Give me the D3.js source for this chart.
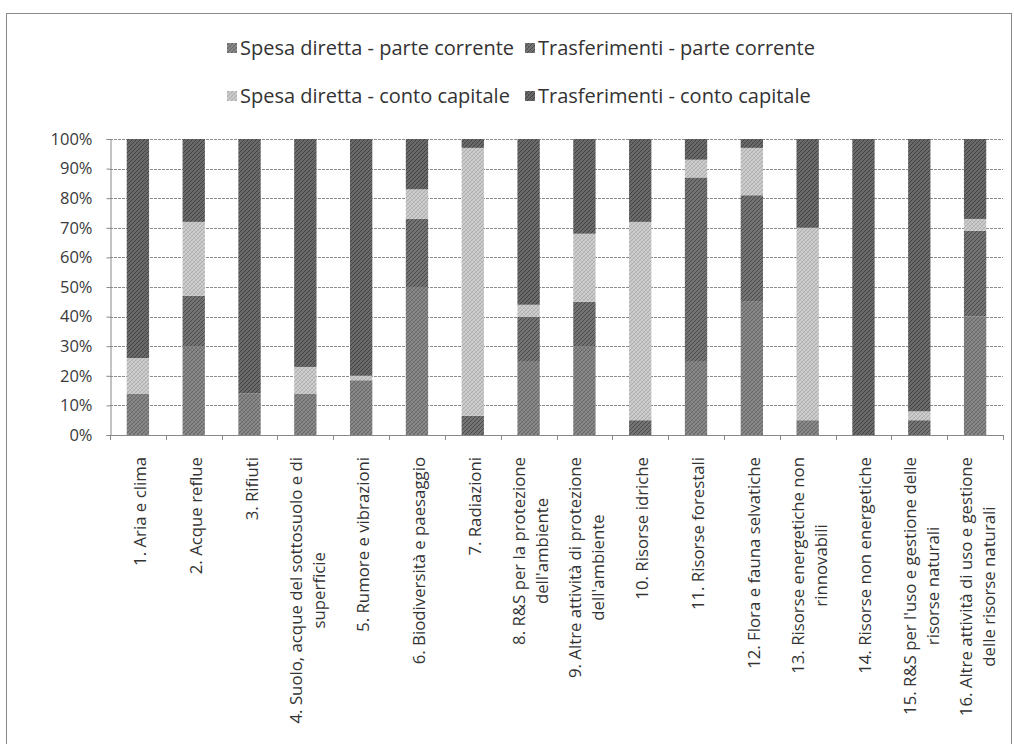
<!DOCTYPE html>
<html><head><meta charset="utf-8">
<script src="https://cdn.jsdelivr.net/npm/d3@7"></script>
<style>
html,body{margin:0;padding:0;background:#fff;}
svg{display:block;}
</style></head>
<body>
<svg id="chart" width="1014" height="744"></svg>
<script>
const categories = [
  "1. Aria e clima",
  "2. Acque reflue",
  "3. Rifiuti",
  "4. Suolo, acque del sottosuolo e di\nsuperficie",
  "5. Rumore e vibrazioni",
  "6. Biodiversità e paesaggio",
  "7. Radiazioni",
  "8. R&S per la protezione\ndell'ambiente",
  "9. Altre attività di protezione\ndell'ambiente",
  "10. Risorse idriche",
  "11. Risorse forestali",
  "12. Flora e fauna selvatiche",
  "13. Risorse energetiche non\nrinnovabili",
  "14. Risorse non energetiche",
  "15. R&S per l'uso e gestione delle\nrisorse naturali",
  "16. Altre attività di uso e gestione\ndelle risorse naturali"
];
const seriesNames = [
  "Spesa diretta - parte corrente",
  "Trasferimenti - parte corrente",
  "Spesa diretta - conto capitale",
  "Trasferimenti - conto capitale"
];
const spesaDirettaCorrente   = [14, 30, 14, 14, 18.5, 50, 0,   25, 30, 0,  25, 45, 5,  0,   0,  40];
const trasferimentiCorrente  = [0,  17, 0,  0,  0,    23, 6.5, 15, 15, 5,  62, 36, 0,  0,   5,  29];
const spesaDirettaCapitale   = [12, 25, 0,  9,  1.5,  10, 90.5, 4, 23, 67, 6,  16, 65, 0,   3,  4];
const trasferimentiCapitale  = [74, 28, 86, 77, 80,   17, 3,   56, 32, 28, 7,  3,  30, 100, 92, 27];
const yTicks = [0, 0.1, 0.2, 0.3, 0.4, 0.5, 0.6, 0.7, 0.8, 0.9, 1];

const seriesValues = [spesaDirettaCorrente, trasferimentiCorrente, spesaDirettaCapitale, trasferimentiCapitale];
const rows = categories.map((c, i) => {
  const r = {cat: c};
  seriesNames.forEach((s, k) => r[s] = seriesValues[k][i]);
  return r;
});

const svg = d3.select("#chart");
const m = {left: 110, right: 1003, top: 139, bottom: 435};

// patterns
const defs = svg.append("defs");
const pat = [
  {id: "p0", base: "#8a8a8a", line: "#666666", cross: true},
  {id: "p1", base: "#737373", line: "#4a4a4a", cross: false},
  {id: "p2", base: "#cdcdcd", line: "#adadad", cross: true},
  {id: "p3", base: "#696969", line: "#424242", cross: false}
];
pat.forEach(p => {
  const g = defs.append("pattern").attr("id", p.id).attr("patternUnits", "userSpaceOnUse")
    .attr("width", 4).attr("height", 4);
  g.append("rect").attr("width", 4).attr("height", 4).attr("fill", p.base);
  g.append("path").attr("d", "M-1,1 L1,-1 M0,4 L4,0 M3,5 L5,3").attr("stroke", p.line).attr("stroke-width", 1);
  if (p.cross) g.append("path").attr("d", "M0,0 L4,4 M-1,3 L1,5 M3,-1 L5,1").attr("stroke", p.line).attr("stroke-width", 0.6).attr("opacity", 0.7);
});

// outer border
svg.append("rect").attr("x", 6.5).attr("y", 13.5).attr("width", 1005).attr("height", 740)
  .attr("fill", "none").attr("stroke", "#8a8a8a").attr("stroke-width", 1);

const x = d3.scaleBand().domain(categories).range([m.left, m.right]).paddingInner(0.6).paddingOuter(0.3);
const y = d3.scaleLinear().domain([0, 1]).range([m.bottom, m.top]);

// gridlines
svg.append("g").selectAll("line").data(yTicks).join("line")
  .attr("x1", m.left).attr("x2", m.right)
  .attr("y1", d => Math.round(y(d)) + 0.5).attr("y2", d => Math.round(y(d)) + 0.5)
  .attr("stroke", "#8c8c8c").attr("stroke-width", 1).attr("stroke-dasharray", "3,1");

// y axis
const yAxis = d3.axisLeft(y).tickValues(yTicks).tickFormat(d3.format(".0%")).tickSize(4).tickPadding(14);
const gy = svg.append("g").attr("transform", `translate(${m.left + 0.5},0)`).call(yAxis);
gy.select(".domain").attr("stroke", "#888");
gy.selectAll(".tick line").attr("stroke", "#888");
gy.selectAll(".tick text").attr("font-family", "Open Sans, sans-serif").attr("font-size", 16.5).attr("fill", "#3a3a3a");

// stacks
const stack = d3.stack().keys(seriesNames).offset(d3.stackOffsetExpand);
const stacked = stack(rows);
svg.append("g").selectAll("g").data(stacked).join("g")
  .attr("fill", (d, i) => `url(#p${i})`)
  .selectAll("rect").data(d => d).join("rect")
  .attr("x", d => x(d.data.cat))
  .attr("width", x.bandwidth())
  .attr("y", d => y(d[1]))
  .attr("height", d => y(d[0]) - y(d[1]));

// x axis
const xAxisG = svg.append("g");
xAxisG.append("line").attr("x1", m.left).attr("x2", m.right).attr("y1", m.bottom + 0.5).attr("y2", m.bottom + 0.5).attr("stroke", "#888");
const bounds = d3.range(categories.length + 1).map(i => m.left + (m.right - m.left) * i / categories.length);
xAxisG.selectAll("line.tk").data(bounds).join("line").attr("class", "tk")
  .attr("x1", d => Math.round(d) + 0.5).attr("x2", d => Math.round(d) + 0.5)
  .attr("y1", m.bottom).attr("y2", m.bottom + 5).attr("stroke", "#888");

// x labels rotated
const labG = svg.append("g").attr("font-family", "Open Sans, sans-serif").attr("font-size", 16.8).attr("fill", "#333");
categories.forEach(c => {
  const lines = c.split("\n");
  const cx = x(c) + x.bandwidth() / 2;
  const g = labG.append("g");
  const t = g.append("text").attr("text-anchor", "middle");
  const lh = 23;
  lines.forEach((ln, k) => {
    t.append("tspan").attr("x", 0).attr("y", (k - (lines.length - 1) / 2) * lh + 6).text(ln);
  });
  let L = 0;
  t.selectAll("tspan").each(function () { L = Math.max(L, this.getComputedTextLength()); });
  g.attr("transform", `translate(${cx + 2},${m.bottom + 22 + L / 2}) rotate(-90)`);
});

// legend
const legG = svg.append("g").attr("font-family", "Open Sans, sans-serif").attr("font-size", 20).attr("fill", "#333");
const legPos = [
  {x: 240, y: 48}, {x: 538, y: 48},
  {x: 240, y: 96}, {x: 538, y: 96}
];
seriesNames.forEach((s, i) => {
  legG.append("rect").attr("x", legPos[i].x - 13).attr("y", legPos[i].y - 5).attr("width", 10).attr("height", 10).attr("fill", `url(#p${i})`);
  legG.append("text").attr("x", legPos[i].x).attr("y", legPos[i].y + 7).text(s);
});
</script>
</body></html>
